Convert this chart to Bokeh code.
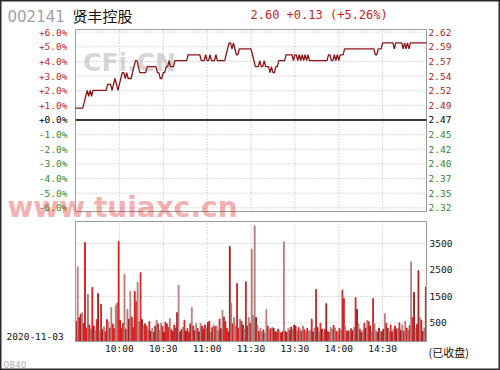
import numpy as np
from bokeh.plotting import figure
from bokeh.models import ColumnDataSource, Label, Range1d
from bokeh.core.properties import value
from bokeh.embed import file_html
from bokeh.resources import INLINE

# ---------------- data ----------------
stock_code = "002141"
stock_name = "贤丰控股"
quote_text = "2.60 +0.13 (+5.26%)"
trade_date = "2020-11-03"
status_text = "(已收盘)"
footer_code = "0840"
watermark_1 = "CFi.CN"
watermark_2 = "www.tuiaxc.cn"
prev_close = 2.47

prices = [
    2.49, 2.49, 2.49, 2.49, 2.49, 2.49, 2.50, 2.51, 2.52, 2.51,
    2.52, 2.51, 2.52, 2.52, 2.52, 2.52, 2.52, 2.52, 2.52, 2.52,
    2.52, 2.52, 2.53, 2.53, 2.53, 2.52, 2.53, 2.54, 2.53, 2.52,
    2.53, 2.54, 2.55, 2.55, 2.54, 2.55, 2.54, 2.54, 2.54, 2.55,
    2.56, 2.57, 2.57, 2.56, 2.55, 2.55, 2.55, 2.55, 2.55, 2.56,
    2.56, 2.56, 2.56, 2.56, 2.56, 2.56, 2.55, 2.55, 2.54, 2.54,
    2.55, 2.55, 2.56, 2.56, 2.57, 2.56, 2.56, 2.56, 2.57, 2.57,
    2.57, 2.57, 2.57, 2.57, 2.57, 2.57, 2.57, 2.58, 2.58, 2.58,
    2.58, 2.58, 2.58, 2.58, 2.58, 2.58, 2.57, 2.57, 2.57, 2.58,
    2.57, 2.57, 2.58, 2.57, 2.57, 2.57, 2.58, 2.57, 2.57, 2.57,
    2.57, 2.57, 2.57, 2.58, 2.59, 2.60, 2.60, 2.59, 2.60, 2.59,
    2.58, 2.58, 2.59, 2.59, 2.59, 2.59, 2.59, 2.59, 2.59, 2.59,
    2.59, 2.58, 2.57, 2.56, 2.56, 2.56, 2.57, 2.56, 2.56, 2.57,
    2.56, 2.56, 2.56, 2.55, 2.56, 2.55, 2.55, 2.56, 2.56, 2.57,
    2.57, 2.57, 2.57, 2.57, 2.58, 2.58, 2.58, 2.58, 2.58, 2.57,
    2.58, 2.58, 2.57, 2.58, 2.57, 2.58, 2.57, 2.58, 2.57, 2.58,
    2.57, 2.57, 2.57, 2.57, 2.57, 2.57, 2.57, 2.57, 2.57, 2.57,
    2.57, 2.57, 2.57, 2.58, 2.58, 2.57, 2.57, 2.58, 2.57, 2.58,
    2.57, 2.58, 2.58, 2.58, 2.59, 2.59, 2.59, 2.59, 2.59, 2.59,
    2.59, 2.59, 2.59, 2.59, 2.59, 2.59, 2.59, 2.59, 2.59, 2.59,
    2.59, 2.59, 2.59, 2.59, 2.59, 2.58, 2.58, 2.59, 2.59, 2.59,
    2.60, 2.60, 2.60, 2.60, 2.60, 2.60, 2.60, 2.60, 2.59, 2.60,
    2.60, 2.60, 2.60, 2.60, 2.59, 2.60, 2.59, 2.60, 2.59, 2.60,
    2.60, 2.60, 2.60, 2.60, 2.60, 2.60, 2.60, 2.60, 2.60, 2.60,
    2.60,
]

volumes = [
    550, 2620, 700, 820, 880, 480, 3540, 300, 1570, 420,
    260, 1840, 380, 200, 620, 1610, 180, 1200, 250, 350,
    160, 620, 520, 300, 1080, 450, 280, 1150, 1250, 3580,
    600, 280, 480, 2330, 260, 1010, 640, 1690, 720, 320,
    1690, 1300, 2030, 540, 2400, 620, 400, 460, 380, 260,
    550, 180, 300, 140, 380, 600, 460, 220, 480, 360,
    140, 520, 460, 320, 660, 250, 180, 420, 300, 890,
    1920, 160, 250, 340, 600, 180, 280, 140, 460, 1080,
    380, 200, 470, 300, 160, 480, 380, 260, 420, 300,
    510, 560, 160, 320, 420, 360, 380, 200, 640, 280,
    980, 720, 540, 300, 160, 3390, 1230, 460, 700, 380,
    1990, 300, 640, 560, 420, 260, 2050, 380, 700, 480,
    3290, 780, 4170, 700, 400, 180, 300, 160, 240, 120,
    1010, 380, 220, 280, 320, 300, 180, 140, 260, 160,
    120, 160, 3570, 180, 140, 300, 220, 340, 260, 420,
    380, 180, 320, 260, 180, 380, 240, 160, 300, 180,
    220, 640, 160, 300, 1760, 320, 160, 480, 260, 120,
    260, 1230, 180, 140, 320, 260, 400, 300, 180, 160,
    300, 220, 1740, 1420, 380, 180, 200, 160, 280, 200,
    320, 1460, 1010, 460, 260, 140, 200, 480, 300, 600,
    540, 380, 180, 1420, 460, 200, 140, 300, 180, 160,
    260, 850, 480, 300, 180, 420, 160, 260, 380, 260,
    300, 500, 220, 420, 180, 560, 300, 220, 400, 2810,
    700, 1650, 300, 440, 2470, 700, 600, 180, 300, 1860,
]

pct_ticks = [6, 5, 4, 3, 2, 1, 0, -1, -2, -3, -4, -5, -6]
pct_labels = ["+6.0%", "+5.0%", "+4.0%", "+3.0%", "+2.0%", "+1.0%", "+0.0%",
              "-1.0%", "-2.0%", "-3.0%", "-4.0%", "-5.0%", "-6.0%"]
price_labels = ["2.62", "2.59", "2.57", "2.54", "2.52", "2.49", "2.47",
                "2.45", "2.42", "2.40", "2.37", "2.35", "2.32"]
time_ticks = [30, 60, 90, 120, 150, 180, 210]
time_labels = ["10:00", "10:30", "11:00", "11:30", "13:30", "14:00", "14:30"]
vol_ticks = [500, 1500, 2500, 3500]
vol_labels = ["500", "1500", "2500", "3500"]

# ---------------- layout constants (pixels) & styles ----------------
W, H = 500, 370
BOX_L, BOX_R = 75, 426            # left / right edge of both panels
P_TOP, P_BOT = 29, 211            # price panel
V_TOP, V_BOT = 221, 341           # volume panel
T0, T1 = 0, 240
PCT_MIN, PCT_MAX = -6.25, 6.18
VOL_FLOOR, VOL_MAX = -208, 4333

MONO = "DejaVu Sans Mono"
SANS = "DejaVu Sans"
CJK = "Noto Sans CJK SC"
FS = "9.5px"
RED = "#c42828"
RED_R = "#a82424"
GREEN = "#2a8a2a"
GRID = "#b4b4b4"
BOX = "#9a9a9a"
LINE = "#8b1414"


def y_extent(v_top, v_bot, px_top, px_bot):
    per_px = (v_top - v_bot) / (px_bot - px_top)
    return v_bot - (H - px_bot) * per_px, v_top + px_top * per_px


x_per_px = (T1 - T0) / (BOX_R - BOX_L)
x_start, x_end = T0 - BOX_L * x_per_px, T1 + (W - BOX_R) * x_per_px
py0, py1 = y_extent(PCT_MAX, PCT_MIN, P_TOP, P_BOT)
vy0, vy1 = y_extent(VOL_MAX, VOL_FLOOR, V_TOP, V_BOT)

p = figure(width=W, height=H, output_backend="svg", toolbar_location=None,
           x_range=Range1d(x_start, x_end), y_range=Range1d(py0, py1),
           x_axis_location=None, y_axis_location=None,
           min_border_left=0, min_border_right=0, min_border_top=0, min_border_bottom=0)
p.extra_y_ranges = {"vol": Range1d(vy0, vy1)}
p.grid.visible = False
p.outline_line_color = "#2a2a2a"
p.outline_line_width = 2
p.background_fill_color = "white"
p.border_fill_color = "white"

minutes = np.arange(len(prices))
pct = (np.array(prices) - prev_close) / prev_close * 100.0


def sign_color(v, pos):
    return pos if v > 0 else ("#000000" if v == 0 else GREEN)


# ---- watermark CFi.CN (under everything) ----
p.add_layout(Label(x=129, y=H - 62, x_units="screen", y_units="screen", text=watermark_1,
                   text_font=SANS, text_font_style="bold", text_font_size="25px",
                   text_color="#d6d6d6", text_align="center", text_baseline="middle",
                   level="underlay"))

# ---- price panel grid ----
hgrid = [t for t in pct_ticks if t != 0]
p.segment(x0=time_ticks, x1=time_ticks, y0=[PCT_MIN] * len(time_ticks),
          y1=[PCT_MAX] * len(time_ticks), line_color=GRID, line_dash="1 2", line_width=1)
p.segment(x0=[T0] * len(hgrid), x1=[T1] * len(hgrid), y0=hgrid, y1=hgrid,
          line_color=GRID, line_dash="1 2", line_width=1)
p.quad(left=[T0], right=[T1], bottom=[PCT_MIN], top=[PCT_MAX],
       fill_color=None, line_color=BOX, line_width=1)
p.segment(x0=[T0], x1=[T1], y0=[0], y1=[0], line_color="#3a3a3a", line_width=2)

# ---- price line ----
p.line(minutes, pct, line_color=LINE, line_width=1.3)

# ---- price panel labels ----
p.text(x=[T0] * len(pct_ticks), y=pct_ticks, text=pct_labels,
       text_color=[sign_color(t, RED) for t in pct_ticks],
       x_offset=-8, text_align="right", text_baseline="middle",
       text_font=value(MONO), text_font_size=value(FS))
p.text(x=[T1] * len(pct_ticks), y=pct_ticks, text=price_labels,
       text_color=[sign_color(t, RED_R) for t in pct_ticks],
       x_offset=2, text_align="left", text_baseline="middle",
       text_font=value(MONO), text_font_size=value(FS))

# ---- volume panel ----
p.segment(x0=time_ticks, x1=time_ticks, y0=[VOL_FLOOR] * len(time_ticks),
          y1=[VOL_MAX] * len(time_ticks), line_color=GRID, line_dash="1 2",
          line_width=1, y_range_name="vol")
p.segment(x0=[T0] * len(vol_ticks), x1=[T1] * len(vol_ticks), y0=vol_ticks, y1=vol_ticks,
          line_color=GRID, line_dash="1 2", line_width=1, y_range_name="vol")

bar_colors = []
for i in range(len(volumes)):
    d = prices[i + 1] - prices[i]
    bar_colors.append("#dd1c1c" if d > 0 else ("#b07a7a" if d < 0 else
                      ("#a01e1e" if i % 3 == 0 else ("#b98080" if i % 3 == 1 else "#d02828"))))
vsrc = ColumnDataSource(dict(x=np.arange(len(volumes)) + 0.5, top=volumes, color=bar_colors))
p.vbar(x="x", top="top", bottom=VOL_FLOOR, width=0.55, color="color", source=vsrc,
       y_range_name="vol")
p.quad(left=[T0], right=[T1], bottom=[VOL_FLOOR], top=[VOL_MAX],
       fill_color=None, line_color=BOX, line_width=1, y_range_name="vol")

p.text(x=[T1] * len(vol_ticks), y=vol_ticks, text=vol_labels, text_color="#111111",
       x_offset=3, text_align="left", text_baseline="middle",
       text_font=value(MONO), text_font_size=value(FS), y_range_name="vol")
p.text(x=time_ticks, y=[VOL_FLOOR] * len(time_ticks), text=time_labels,
       text_color="#111111", y_offset=7, text_align="center", text_baseline="middle",
       text_font=value(MONO), text_font_size=value(FS), y_range_name="vol")

# ---- header & misc texts (screen px, y from bottom) ----
p.add_layout(Label(x=7, y=H - 15, x_units="screen", y_units="screen", text=stock_code,
                   text_font=SANS, text_font_size="15px",
                   text_color="#a0a0a0", text_baseline="middle"))
p.add_layout(Label(x=72, y=H - 15, x_units="screen", y_units="screen", text=stock_name,
                   text_font=CJK, text_font_size="15px",
                   text_color="#111111", text_baseline="middle"))
p.add_layout(Label(x=250, y=H - 14, x_units="screen", y_units="screen", text=quote_text,
                   text_font=MONO, text_font_size="12px",
                   text_color="#c81e1e", text_baseline="middle"))
p.add_layout(Label(x=428, y=H - 351, x_units="screen", y_units="screen", text=status_text,
                   text_font=CJK, text_font_size="11px", text_color="#111111",
                   text_baseline="middle"))
p.add_layout(Label(x=6, y=H - 336, x_units="screen", y_units="screen", text=trade_date,
                   text_font=MONO, text_font_size=FS, text_color="#111111",
                   text_baseline="middle"))
p.add_layout(Label(x=3, y=H - 364, x_units="screen", y_units="screen", text=footer_code,
                   text_font=SANS, text_font_size="9px",
                   text_color="#b0b0b0", text_baseline="middle"))

# ---- watermark www (over everything, translucent) ----
p.add_layout(Label(x=7, y=H - 207, x_units="screen", y_units="screen", text=watermark_2,
                   text_font=SANS, text_font_style="bold", text_font_size="28px",
                   text_color="#e03030", text_alpha=0.40, text_baseline="alphabetic"))

open("out.html", "w").write(file_html(p, INLINE))
